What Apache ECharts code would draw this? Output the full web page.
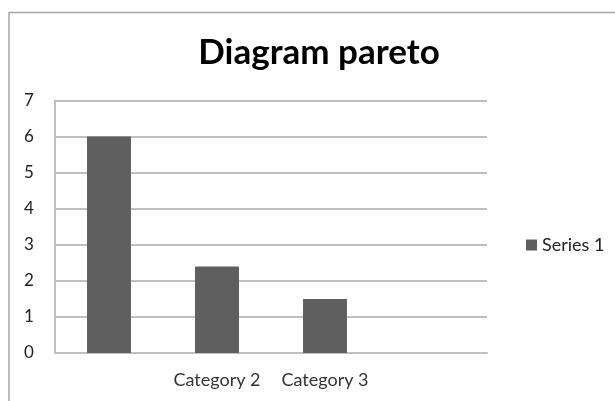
<!DOCTYPE html>
<html><head><meta charset="utf-8">
<script src="https://cdn.jsdelivr.net/npm/echarts@6/dist/echarts.min.js"></script>
<style>html,body{margin:0;padding:0;background:#fff}#c{width:615px;height:401px}</style>
</head><body><div id="c"></div>
<script>
const categories = ["", "Category 2", "Category 3", ""];
const series1 = [6, 2.4, 1.5, null];
const yTicks = [0, 1, 2, 3, 4, 5, 6, 7];
const chart = echarts.init(document.getElementById('c'), null, {renderer: 'canvas'});
const FONT = 'Lato';
chart.setOption({
  animation: false,
  backgroundColor: '#fff',
  graphic: [{
    type: 'polyline', silent: true,
    shape: {points: [[9, 420], [9, 12.5], [630, 12.5]]},
    style: {stroke: '#a6a6a6', lineWidth: 1.5, fill: null}
  }],
  title: {
    text: 'Diagram pareto', left: 314, top: 30, textAlign: 'center',
    textStyle: {fontFamily: FONT, fontWeight: 'bold', fontSize: 35, color: '#000'}
  },
  legend: {
    data: ['Series 1'], left: 521, top: 231, orient: 'vertical',
    icon: 'rect', itemWidth: 11, itemHeight: 11, itemGap: 5,
    textStyle: {fontFamily: FONT, fontSize: 18, color: '#222'}
  },
  grid: {left: 55, right: 128, top: 100.5, bottom: 48, containLabel: false},
  xAxis: {
    type: 'category', data: categories,
    axisLine: {show: true, lineStyle: {color: '#bfbfbf', width: 2}},
    axisTick: {show: false},
    axisLabel: {fontFamily: FONT, fontSize: 18, color: '#333', margin: 18, interval: 0}
  },
  yAxis: {
    type: 'value', min: yTicks[0], max: yTicks[yTicks.length - 1], interval: 1,
    axisLine: {show: true, lineStyle: {color: '#bfbfbf', width: 2}},
    axisTick: {show: false},
    axisLabel: {fontFamily: FONT, fontSize: 17, color: '#222', margin: 26, align: 'center'},
    splitLine: {show: true, lineStyle: {color: '#bfbfbf', width: 2}}
  },
  series: [{
    name: 'Series 1', type: 'bar', data: series1, barWidth: '40.7%',
    itemStyle: {color: '#5f5f5f'}
  }]
});
</script></body></html>
